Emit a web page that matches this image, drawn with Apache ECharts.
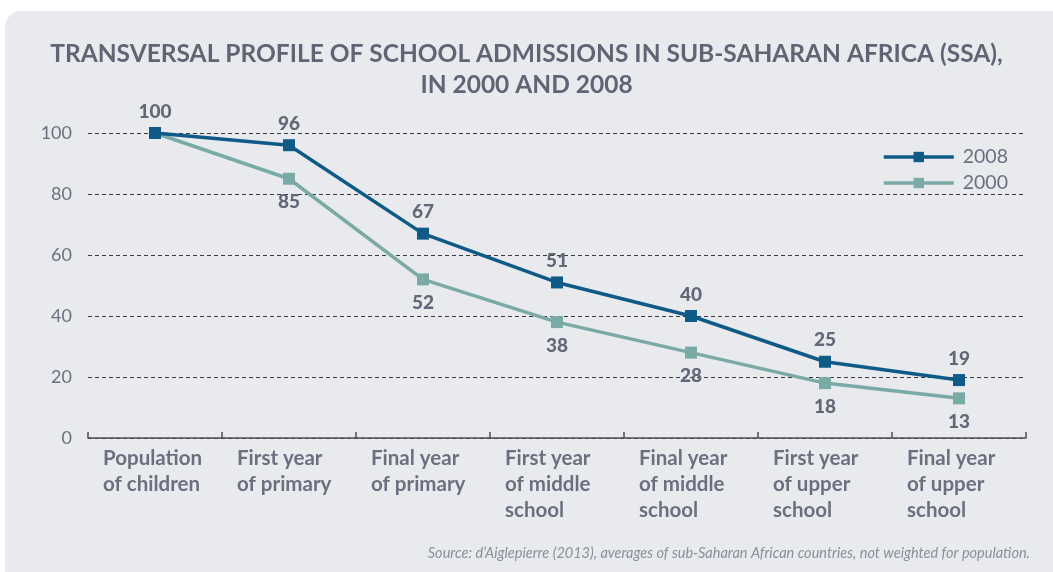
<!DOCTYPE html>
<html>
<head>
<meta charset="utf-8">
<script src="https://cdn.jsdelivr.net/npm/echarts@6/dist/echarts.min.js"></script>
<style>
  html, body { margin: 0; padding: 0; background: #ffffff; }
  #chart { width: 1053px; height: 572px; }
</style>
</head>
<body>
<div id="chart"></div>
<script>
// data
const stages = [
  'Population\nof children',
  'First year\nof primary',
  'Final year\nof primary',
  'First year\nof middle\nschool',
  'Final year\nof middle\nschool',
  'First year\nof upper\nschool',
  'Final year\nof upper\nschool'
]
const admissions2008 = [100, 96, 67, 51, 40, 25, 19]
const admissions2000 = [100, 85, 52, 38, 28, 18, 13]
const yTicks = { min: 0, max: 100, step: 20 }

const textGrey = '#626877'
const font = 'Lato'

const chart = echarts.init(document.getElementById('chart'))

chart.setOption({
  animation: false,
  textStyle: { fontFamily: font },
  graphic: [
    {
      // grey panel behind the chart
      type: 'rect',
      z: -10,
      shape: { x: 5, y: 11, width: 1060, height: 570, r: [16, 0, 0, 0] },
      style: { fill: '#e9eaee' }
    },
    {
      type: 'text',
      right: 23,
      top: 546,
      style: {
        text: "Source: d’Aiglepierre (2013), averages of sub-Saharan African countries, not weighted for population.",
        fontFamily: font,
        fontStyle: 'italic',
        fontSize: 14.5,
        fill: '#8a8f9b'
      }
    }
  ],
  title: {
    text: 'TRANSVERSAL PROFILE OF SCHOOL ADMISSIONS IN SUB-SAHARAN AFRICA (SSA),\nIN 2000 AND 2008',
    left: 'center',
    top: 34,
    textStyle: {
      fontFamily: font,
      fontWeight: 'bold',
      fontSize: 24.5,
      lineHeight: 31,
      color: '#5f6574'
    }
  },
  legend: {
    orient: 'vertical',
    left: 877,
    top: 142,
    itemWidth: 70,
    itemHeight: 13,
    itemGap: 6,
    data: ['2008', '2000'],
    lineStyle: { width: 3.5 },
    textStyle: { fontFamily: font, fontSize: 19.5, color: '#6b7080', padding: [0, 0, 0, 4] }
  },
  grid: { left: 88, right: 27, top: 133, bottom: 134 },
  xAxis: {
    type: 'category',
    data: stages,
    boundaryGap: true,
    axisLine: { lineStyle: { color: '#4d4f55', width: 1.5 } },
    axisTick: { show: true, inside: true, length: 6, lineStyle: { color: '#4d4f55', width: 1.5 } },
    axisLabel: {
      interval: 0,
      margin: 7,
      align: 'center',
      verticalAlign: 'top',
      formatter: v => v.split('\n').map(l => '{a|' + l + '}').join('\n'),
      rich: {
        a: {
          width: 104,
          align: 'left',
          fontFamily: font,
          fontWeight: 'bold',
          fontSize: 20.5,
          lineHeight: 26,
          color: '#6b7080'
        }
      }
    }
  },
  yAxis: {
    type: 'value',
    min: yTicks.min,
    max: yTicks.max,
    interval: yTicks.step,
    axisLine: { show: false },
    axisTick: { show: false },
    axisLabel: { margin: 16, fontFamily: font, fontSize: 18, color: '#6b7080' },
    splitLine: { lineStyle: { color: '#3a3a3a', type: [4, 3], width: 1 } }
  },
  series: [
    {
      name: '2000',
      type: 'line',
      data: admissions2000.map((v, i) => i === 0 ? { value: v, label: { show: false } } : v),
      symbol: 'rect',
      symbolSize: 12,
      lineStyle: { color: '#79aaa5', width: 3.5 },
      itemStyle: { color: '#79aaa5' },
      label: {
        show: true,
        position: 'bottom',
        distance: 8,
        fontFamily: font,
        fontWeight: 900,
        fontSize: 19,
        color: textGrey
      }
    },
    {
      name: '2008',
      type: 'line',
      data: admissions2008,
      symbol: 'rect',
      symbolSize: 12,
      lineStyle: { color: '#0f5a87', width: 3.5 },
      itemStyle: { color: '#0f5a87' },
      label: {
        show: true,
        position: 'top',
        distance: 6,
        fontFamily: font,
        fontWeight: 900,
        fontSize: 19,
        color: textGrey
      }
    }
  ]
})
</script>
</body>
</html>
